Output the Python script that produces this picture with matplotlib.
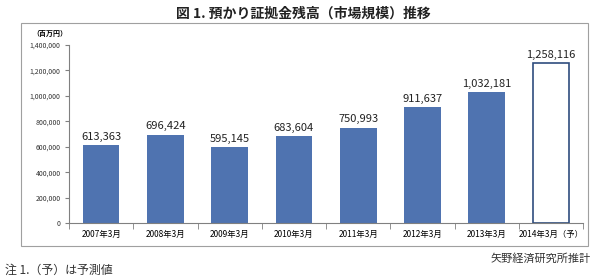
import matplotlib.pyplot as plt
from matplotlib.patches import Rectangle
from matplotlib.ticker import FuncFormatter, FixedLocator

plt.rcParams['font.family'] = ['Noto Sans CJK JP', 'DejaVu Sans']

# data
categories = ['2007年3月', '2008年3月', '2009年3月', '2010年3月',
              '2011年3月', '2012年3月', '2013年3月', '2014年3月（予）']
values = [613363, 696424, 595145, 683604, 750993, 911637, 1032181, 1258116]
forecast = [False, False, False, False, False, False, False, True]

fig = plt.figure(figsize=(6, 2.79), dpi=100)

# outer frame around the chart
fig.patches.append(Rectangle((0.035, 0.12), 0.945, 0.798, transform=fig.transFigure,
                             fill=False, edgecolor='#a0a0a0', linewidth=0.8))

ax = fig.add_axes([0.115, 0.2, 0.857, 0.639])
x = list(range(len(values)))
for xi, v, f in zip(x, values, forecast):
    if f:
        ax.bar(xi, v, width=0.57, color='white', edgecolor='#2f4d7e', linewidth=1.2)
    else:
        ax.bar(xi, v, width=0.57, color='#4f73b0')
    ax.text(xi, v + 25000, f'{v:,}', ha='center', va='bottom', fontsize=8, color='#222222')

ax.set_xlim(-0.5, len(values) - 0.5)
ax.set_ylim(0, 1400000)
ax.set_yticks(range(0, 1400001, 200000))
ax.yaxis.set_major_formatter(FuncFormatter(lambda v, p: f'{int(v):,}'))
ax.set_xticks(x)
ax.set_xticklabels(categories)
ax.xaxis.set_minor_locator(FixedLocator([i - 0.5 for i in range(len(values) + 1)]))
ax.tick_params(axis='x', which='major', length=0, labelsize=6, pad=5)
ax.tick_params(axis='x', which='minor', length=4, color='#808080', direction='out')
ax.tick_params(axis='y', labelsize=5, length=3, color='#808080', pad=3, labelcolor='#333333')
for s in ['top', 'right']:
    ax.spines[s].set_visible(False)
for s in ['left', 'bottom']:
    ax.spines[s].set_color('#808080')
    ax.spines[s].set_linewidth(0.8)

fig.text(0.505, 0.953, '図 1. 預かり証拠金残高（市場規模）推移', ha='center', va='center',
         fontsize=10, fontweight='bold', color='#222222')
fig.text(0.083, 0.88, '（百万円）', ha='center', va='center', fontsize=5, fontweight='bold')
fig.text(0.985, 0.075, '矢野経済研究所推計', ha='right', va='center', fontsize=8,
         color='#333333')
fig.text(0.008, 0.032, '注 1.（予）は予測値', ha='left', va='center', fontsize=8.6,
         color='#333333')

fig.savefig('out.png', dpi=100)
